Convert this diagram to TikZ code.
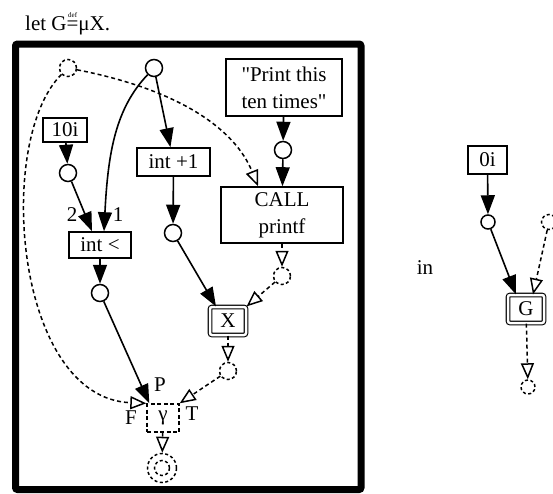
\documentclass[tikz,border=0pt]{standalone}
\usepackage{fontspec}
\setmainfont{Liberation Serif}[Ligatures=TeXOff]
\usetikzlibrary{arrows.meta}
\newcommand{\mydefeq}{\makebox[0pt][l]{\hspace{1.6pt}\raisebox{13pt}{\fontsize{7}{7}\selectfont def}}=}
\begin{document}
\begin{tikzpicture}[x=1pt,y=-1pt,
  every node/.style={font=\fontsize{21}{27}\selectfont},
  box/.style={draw, line width=1.6pt, inner sep=0pt, align=center},
  dbox/.style={draw, line width=1.1pt, double, double distance=2.5pt, rounded corners=2pt, inner sep=0pt},
  circ/.style={draw, circle, line width=1.5pt, minimum size=17pt, inner sep=0pt},
  dcirc/.style={circ, dash pattern=on 3pt off 2.5pt},
  sarr/.style={line width=1.6pt, -{Triangle[length=19pt,width=14pt]}},
  oarr/.style={line width=1.5pt, dash pattern=on 4pt off 3pt, -{Triangle[open,length=16pt,width=13pt]}},
  lbl/.style={inner sep=0pt}
]
\useasboundingbox (0,0) rectangle (553,493);
% title
\node[anchor=base west, inner sep=0pt] (title) at (25,30) {let G\mydefeq μX.};
% frame
\draw[line width=7pt, rounded corners=2pt] (15.5,44) rectangle (361,489.5);

% nodes of the body
\node[dcirc] (topd) at (68,68) {};
\node[circ] (topc) at (154,68) {};
\node[box, minimum width=116pt, minimum height=57pt] (pr) at (284,87.5) {"Print this\\ten times"};
\node[circ] (cp) at (283,150) {};
\node[box, minimum width=122pt, minimum height=56pt] (call) at (282,215) {CALL\\printf};
\node[dcirc] (cd) at (282,276) {};
\node[box, minimum width=44pt, minimum height=24pt] (ten) at (65,130) {10i};
\node[circ] (c10) at (68,173) {};
\node[box, minimum width=73pt, minimum height=28pt] (inc) at (173.5,162) {int +1};
\node[circ] (cin) at (173,233) {};
\node[box, minimum width=62pt, minimum height=26pt] (lt) at (100,245) {int <};
\node[circ] (cl) at (100,293) {};
\node[dbox, minimum width=36pt, minimum height=28pt] (X) at (228,321) {X};
\node[dcirc] (cx) at (228,371) {};
\node[box, dash pattern=on 4pt off 2.5pt, line width=1.4pt, minimum width=32pt, minimum height=28pt] (g) at (163,418) {γ};
\node[dcirc, minimum size=29pt] (cg) at (162,468) {};
\node[dcirc, minimum size=15pt] (cgi) at (162,468) {};

% labels
\node[lbl] (l2) at (72,215) {2};
\node[lbl] (l1) at (118,215) {1};
\node[lbl] (lP) at (160,385) {P};
\node[lbl] (lF) at (131,418) {F};
\node[lbl] (lT) at (192,414) {T};

% right part
\node (in) at (425,268) {in};
\node[box, minimum width=39pt, minimum height=28pt] (zero) at (487.5,160) {0i};
\node[circ, minimum size=14pt] (c0) at (488,222) {};
\node[dcirc, minimum size=15pt] (cr) at (549,222) {};
\node[dbox, minimum width=36pt, minimum height=28pt] (G) at (526,309) {G};
\node[dcirc, minimum size=14pt] (cG) at (528,387) {};

% connectors
\draw[sarr] (ten) -- (c10);
\draw[sarr] (c10) -- ([xshift=-8pt]lt.north);
\draw[sarr] (topc) .. controls +(-38,40) and +(4,-80) .. ([xshift=4pt]lt.north);
\draw[sarr] (topc) -- (inc);
\draw[sarr] (inc) -- (cin);
\draw[sarr] (cin) -- ([xshift=-12pt]X.north);
\draw[sarr] (pr) -- (cp);
\draw[sarr] (cp) -- (call);
\draw[oarr] (call) -- (cd);
\draw[oarr] (cd) -- (X.north east);
\draw[oarr] (X) -- (cx);
\draw[oarr] (cx) -- (g.north east);
\draw[sarr] (lt) -- (cl);
\draw[sarr] (cl) -- ([xshift=3pt]g.north west);
\draw[oarr] (topd) .. controls +(-73,72) and +(-132,-5) .. (g.north west);
\draw[oarr] (topd) .. controls +(112,22) and +(-23,-57) .. ([xshift=-24pt]call.north);
\draw[oarr] (g) -- (cg);

\draw[sarr] (zero) -- (c0);
\draw[sarr] (c0) -- ([xshift=-10pt]G.north);
\draw[oarr] (cr) -- ([xshift=7pt]G.north);
\draw[oarr] (G) -- (cG);
\end{tikzpicture}
\end{document}
